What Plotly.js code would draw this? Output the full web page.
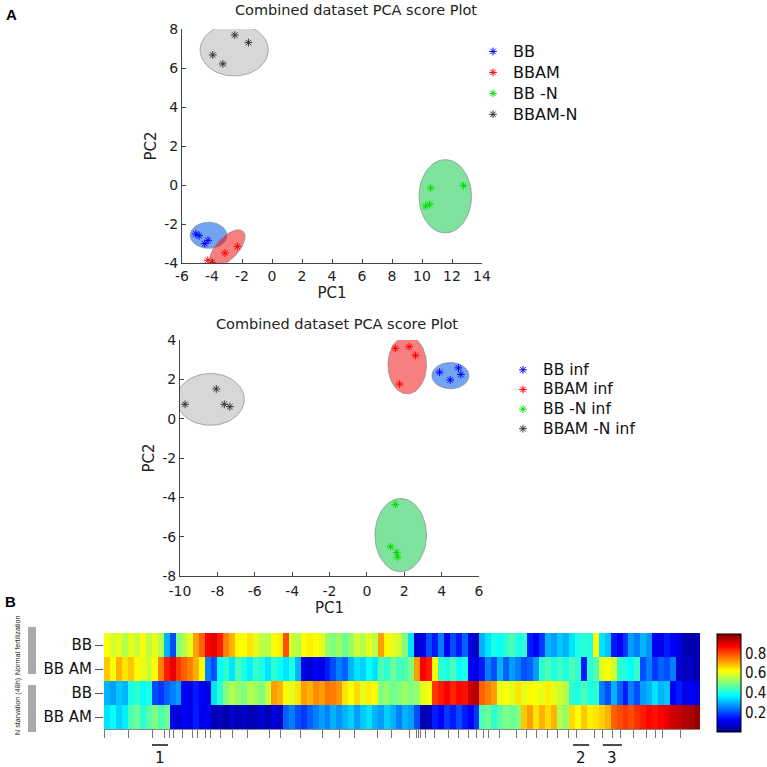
<!DOCTYPE html>
<html>
<head>
<meta charset="utf-8">
<script src="https://cdn.plot.ly/plotly-3.0.1.min.js"></script>
<style>html,body{margin:0;padding:0;background:#fff;}#chart{width:767px;height:767px;}</style>
</head>
<body>
<div id="chart"></div>
<script>
// ---------- Panel A, plot 1 (combined dataset) ----------
const groups1 = ["BB", "BBAM", "BB -N", "BBAM-N"];
const colors = ["#0000ff", "#ff0000", "#00e000", "#333333"];
const fills = ["rgba(0,90,230,0.55)", "rgba(240,0,0,0.5)", "rgba(0,200,60,0.5)", "rgba(160,160,160,0.42)"];
const p1_BB_x = [-5.08, -4.86, -4.48, -4.26];
const p1_BB_y = [-2.51, -2.60, -3.01, -2.84];
const p1_BBAM_x = [-4.28, -3.99, -3.13, -2.31];
const p1_BBAM_y = [-3.86, -3.97, -3.49, -3.15];
const p1_BBN_x = [10.58, 10.24, 10.51, 12.77];
const p1_BBN_y = [-0.15, -1.08, -0.99, -0.03];
const p1_BBAMN_x = [-3.95, -3.28, -2.48, -1.57];
const p1_BBAMN_y = [6.67, 6.21, 7.69, 7.30];
// ellipse: centre x, centre y, semi-axis vector A (x,y), semi-axis vector B (x,y)
const p1_ellCx = [-4.23, -2.97, 11.55, -2.52];
const p1_ellCy = [-2.58, -3.23, -0.58, 6.92];
const p1_ellAx = [1.22, 1.05, 1.75, 2.27];
const p1_ellAy = [0, 0.845, 0, 0];
const p1_ellBx = [0, 0.525, 0, 0];
const p1_ellBy = [0.67, -0.393, 1.88, 1.33];
const p1_xTicks = [-6, -4, -2, 0, 2, 4, 6, 8, 10, 12, 14];
const p1_yTicks = [-4, -2, 0, 2, 4, 6, 8];

// ---------- Panel A, plot 2 (infected) ----------
const groups2 = ["BB inf", "BBAM inf", "BB -N inf", "BBAM -N inf"];
const p2_BB_x = [3.89, 4.46, 4.90, 5.03];
const p2_BB_y = [2.36, 1.97, 2.58, 2.25];
const p2_BBAM_x = [1.52, 2.26, 2.60, 1.75];
const p2_BBAM_y = [3.58, 3.66, 3.22, 1.76];
const p2_BBN_x = [1.53, 1.27, 1.59, 1.64];
const p2_BBN_y = [-4.36, -6.51, -6.80, -7.03];
const p2_BBAMN_x = [-9.73, -8.06, -7.63, -7.33];
const p2_BBAMN_y = [0.73, 1.51, 0.73, 0.61];
const p2_ellCx = [4.47, 2.16, 1.81, -8.37];
const p2_ellCy = [2.19, 2.73, -5.92, 0.98];
const p2_ellAx = [0.99, 1.03, 1.38, 1.81];
const p2_ellAy = [0, 0, 0, 0];
const p2_ellBx = [0, 0, 0, 0];
const p2_ellBy = [0.67, 1.47, 1.86, 1.32];
const p2_xTicks = [-10, -8, -6, -4, -2, 0, 2, 4, 6];
const p2_yTicks = [-8, -6, -4, -2, 0, 2, 4];

// ---------- Panel B heatmap ----------
const rowLabels = ["BB", "BB AM", "BB", "BB AM"];
const rowNormalBB = [0.62,0.58,0.6,0.55,0.6,0.57,0.62,0.56,0.6,0.55,
  0.3,0.2,0.5,0.55,0.6,0.72,0.78,0.88,0.9,0.85,0.75,0.7,
  0.63,0.62,0.65,0.6,0.56,0.55,0.62,0.64,0.8,0.58,0.55,
  0.62,0.64,0.62,0.6,0.52,0.5,0.53,0.48,0.52,0.58,0.55,0.6,0.56,0.72,
  0.63,0.6,0.58,0.5,0.35,0.08,0.1,0.2,0.15,0.25,0.12,0.2,0.15,0.22,0.1,0.06,
  0.3,0.35,0.4,0.38,0.42,0.45,0.4,0.42,0.15,0.12,0.18,0.3,0.28,0.32,0.3,0.35,
  0.4,0.42,0.4,0.62,0.35,0.32,0.15,0.12,0.18,0.28,0.25,0.3,0.27,
  0.12,0.1,0.15,0.12,0.1,0.05,0.04,0.05];
const rowNormalBBAM = [0.68,0.62,0.7,0.65,0.68,0.63,0.6,0.58,0.62,0.75,0.85,
  0.9,0.82,0.78,0.75,0.7,0.62,0.25,0.2,
  0.38,0.42,0.35,0.45,0.4,0.36,0.43,0.4,0.35,0.42,0.38,0.35,0.4,0.3,
  0.1,0.08,0.12,0.1,0.15,0.2,0.25,0.22,0.3,0.35,0.33,0.38,0.35,
  0.45,0.42,0.48,0.44,0.45,0.5,0.72,0.88,0.85,0.62,0.42,0.4,0.45,0.38,0.4,
  0.12,0.1,0.15,0.25,0.2,0.3,0.22,0.28,0.25,0.2,0.22,0.28,
  0.42,0.45,0.4,0.44,0.4,0.45,0.42,0.15,0.42,0.45,0.6,0.62,0.58,
  0.42,0.4,0.38,0.43,0.2,0.25,0.18,0.22,0.2,0.25,0.08,0.06,0.07,0.05];
const rowStarvBB = [0.3,0.28,0.32,0.3,0.4,0.42,0.38,0.4,0.2,0.18,0.22,0.25,0.28,
  0.12,0.1,0.15,0.12,0.1,0.35,0.42,
  0.5,0.55,0.52,0.5,0.55,0.53,0.5,0.57,0.72,0.7,0.62,0.6,0.65,
  0.72,0.7,0.74,0.72,0.76,0.75,0.73,0.65,0.62,0.66,0.6,0.64,0.62,
  0.5,0.52,0.48,0.5,0.53,0.5,0.52,0.6,0.62,
  0.82,0.85,0.88,0.84,0.87,0.86,0.93,0.95,0.78,0.75,0.72,0.6,
  0.62,0.6,0.65,0.6,0.63,0.62,0.6,0.64,0.6,0.58,0.55,
  0.42,0.4,0.45,0.4,0.42,0.25,0.2,0.3,0.22,0.15,0.25,0.2,0.28,
  0.3,0.35,0.3,0.32,0.12,0.15,0.1,0.12,0.1];
const rowStarvBBAM = [0.35,0.38,0.33,0.36,0.45,0.48,0.42,0.46,0.5,0.45,0.48,
  0.1,0.08,0.12,0.1,0.15,0.1,0.12,
  0.05,0.06,0.04,0.08,0.05,0.07,0.05,0.06,0.08,0.05,0.1,0.07,
  0.22,0.25,0.2,0.18,0.22,0.25,0.28,0.25,0.3,0.27,
  0.3,0.33,0.28,0.32,0.35,0.3,0.28,0.33,0.3,0.25,0.3,0.28,0.2,
  0.05,0.06,0.15,0.12,0.18,0.15,0.2,0.15,0.12,0.18,
  0.45,0.48,0.42,0.46,0.5,0.48,0.5,0.68,0.72,0.65,0.7,0.66,0.7,0.55,0.52,
  0.66,0.62,0.68,0.64,0.65,0.67,0.7,0.78,0.8,0.82,0.8,0.83,
  0.85,0.87,0.86,0.88,0.9,0.92,0.93,0.95,0.96,0.98];
// gene-cluster tick positions (column units)
const geneTicks = [-0.5,3.69,7.72,9.57,10.41,11.08,12.59,14.43,15.27,16.45,17.29,18.97,20.98,23.66,27.35,29.03,32.39,
  36.24,38.93,41.45,45.31,47.66,50.84,51.85,52.19,52.52,53.36,54.87,57.22,59.06,60.74,62.08,63.09,63.93,65.94,
  68.79,70.47,72.15,73.83,75.51,77.36,78.86,81.88,83.22,84.74,86.08,88.26,90.44,91.95,93.29,96.31];
const segLabels = ["1", "2", "3"];
const segStart = [7.55, 78.2, 83.2];
const segEnd = [10.24, 80.9, 86.4];
const cbTicks = [0.2, 0.4, 0.6, 0.8];

const jet = [[0,"rgb(0,0,128)"],[0.125,"rgb(0,0,255)"],[0.375,"rgb(0,255,255)"],[0.625,"rgb(255,255,0)"],[0.875,"rgb(255,0,0)"],[1,"rgb(128,0,0)"]];

const W = 767;
const px = v => v / W;
const py = v => 1 - v / W;
const FONT = "DejaVu Sans, Verdana, sans-serif";

function ellipse(cx, cy, ax, ay, bx, by) {
  const xs = [], ys = [];
  for (let i = 0; i <= 72; i++) {
    const t = i / 72 * 2 * Math.PI;
    xs.push(cx + Math.cos(t) * ax + Math.sin(t) * bx);
    ys.push(cy + Math.cos(t) * ay + Math.sin(t) * by);
  }
  return {xs, ys};
}

const traces = [];
function addPlot(names, nameSize, xsArr, ysArr, eCx, eCy, eAx, eAy, eBx, eBy, xa, ya, legendId) {
  for (let g = 0; g < 4; g++) {
    const e = ellipse(eCx[g], eCy[g], eAx[g], eAy[g], eBx[g], eBy[g]);
    traces.push({type: "scatter", mode: "lines", x: e.xs, y: e.ys, xaxis: xa, yaxis: ya,
      fill: "toself", fillcolor: fills[g], line: {color: "#8a8a8a", width: 0.7},
      showlegend: false, hoverinfo: "skip"});
  }
  for (let g = 0; g < 4; g++) {
    traces.push({type: "scatter", mode: "markers",
      name: '<span style="font-size:' + nameSize + 'px">' + names[g] + '</span>',
      x: xsArr[g], y: ysArr[g], xaxis: xa, yaxis: ya, legend: legendId,
      marker: {symbol: "asterisk-open", size: 6.5, color: colors[g], line: {color: colors[g], width: 1}}});
  }
}
addPlot(groups1, 16, [p1_BB_x, p1_BBAM_x, p1_BBN_x, p1_BBAMN_x], [p1_BB_y, p1_BBAM_y, p1_BBN_y, p1_BBAMN_y],
  p1_ellCx, p1_ellCy, p1_ellAx, p1_ellAy, p1_ellBx, p1_ellBy, "x", "y", "legend");
addPlot(groups2, 15.5, [p2_BB_x, p2_BBAM_x, p2_BBN_x, p2_BBAMN_x], [p2_BB_y, p2_BBAM_y, p2_BBN_y, p2_BBAMN_y],
  p2_ellCx, p2_ellCy, p2_ellAx, p2_ellAy, p2_ellBx, p2_ellBy, "x2", "y2", "legend2");

const zRows = [rowNormalBB, rowNormalBBAM, rowStarvBB, rowStarvBBAM];
const nCols = rowNormalBB.length;
traces.push({type: "heatmap", z: zRows, x: [...Array(nCols).keys()], y: [0, 1, 2, 3],
  xaxis: "x3", yaxis: "y3", colorscale: jet, zmin: 0, zmax: 1, showscale: true, hoverinfo: "skip",
  colorbar: {x: px(717), xanchor: "left", y: py(683), yanchor: "middle", len: 98, lenmode: "pixels",
    thickness: 24, thicknessmode: "pixels", xpad: 0, ypad: 0, outlinecolor: "#000", outlinewidth: 1,
    tickvals: cbTicks, ticktext: cbTicks.map(v => v.toFixed(1)), ticks: "", ticklabelpad: 4,
    tickfont: {family: "Liberation Sans Narrow, DejaVu Sans Condensed, sans-serif", size: 15, color: "#111"}}});

const axisCommon = {showgrid: false, zeroline: false, showline: true, linecolor: "#444", linewidth: 1,
  ticks: "inside", ticklen: 4, tickcolor: "#444", tickfont: {family: FONT, size: 14, color: "#222"}, mirror: false};
const tickText = arr => arr.map(v => String(v));

const shapes = [
  {type: "rect", xref: "paper", yref: "paper", x0: px(28), x1: px(36), y0: py(627), y1: py(674), fillcolor: "#aaaaaa", line: {width: 0}},
  {type: "rect", xref: "paper", yref: "paper", x0: px(28), x1: px(36), y0: py(685), y1: py(732), fillcolor: "#aaaaaa", line: {width: 0}}
];
function ann(text, x, y, font, extra) {
  return Object.assign({text: text, x: px(x), y: py(y), xref: "paper", yref: "paper", showarrow: false,
    xanchor: "center", yanchor: "middle", font: font}, extra || {});
}
const annotations = [
  ann("<b>A</b>", 11, 14, {family: "Liberation Sans, Arial", size: 15, color: "#000"}),
  ann("<b>B</b>", 10, 601, {family: "Liberation Sans, Arial", size: 15, color: "#000"}),
  ann("Combined dataset PCA score Plot", 356, 10, {family: FONT, size: 14.5, color: "#222"}),
  ann("Combined dataset PCA score Plot", 337, 324, {family: FONT, size: 14.5, color: "#222"}),
  ann("Normal fertilization", 17, 645, {family: "Liberation Sans, Arial", size: 7.2, color: "#222"}, {textangle: -90}),
  ann("N starvation (48h)", 17, 707, {family: "Liberation Sans, Arial", size: 7.2, color: "#222"}, {textangle: -90})
];
for (let i = 0; i < segLabels.length; i++) {
  shapes.push({type: "line", xref: "x3", yref: "paper", x0: segStart[i], x1: segEnd[i], y0: py(745), y1: py(745), line: {color: "#111", width: 1.5}});
  annotations.push({text: segLabels[i], xref: "x3", yref: "paper", x: (segStart[i] + segEnd[i]) / 2, y: py(758),
    xanchor: "center", yanchor: "middle", showarrow: false, font: {family: FONT, size: 15, color: "#111"}});
}

const layout = {
  width: 767, height: 767, margin: {l: 0, r: 0, t: 0, b: 0}, paper_bgcolor: "#fff", plot_bgcolor: "#fff",
  showlegend: true,
  xaxis: Object.assign({}, axisCommon, {domain: [px(182), px(482)], range: [-6, 14], tickvals: p1_xTicks, ticktext: tickText(p1_xTicks), anchor: "y",
    title: {text: "PC1", font: {family: FONT, size: 15, color: "#222"}, standoff: 2}}),
  yaxis: Object.assign({}, axisCommon, {domain: [py(263), py(29)], range: [-4, 8], tickvals: p1_yTicks, ticktext: tickText(p1_yTicks), anchor: "x",
    title: {text: "PC2", font: {family: FONT, size: 15, color: "#222"}, standoff: 3}}),
  xaxis2: Object.assign({}, axisCommon, {domain: [px(180), px(479)], range: [-10, 6], tickvals: p2_xTicks, ticktext: tickText(p2_xTicks), anchor: "y2",
    ticklabelstandoff: 2, title: {text: "PC1", font: {family: FONT, size: 15, color: "#222"}, standoff: 0}}),
  yaxis2: Object.assign({}, axisCommon, {domain: [py(576), py(340)], range: [-8, 4], tickvals: p2_yTicks, ticktext: tickText(p2_yTicks), anchor: "x2",
    title: {text: "PC2", font: {family: FONT, size: 15, color: "#222"}, standoff: 3}}),
  xaxis3: {domain: [px(104), px(700)], range: [-0.5, nCols - 0.5], anchor: "y3", showgrid: false, zeroline: false,
    showline: true, linecolor: "#888", linewidth: 1, tickvals: geneTicks, ticks: "outside", ticklen: 8, tickcolor: "#777", tickwidth: 1, showticklabels: false},
  yaxis3: {domain: [py(729), py(633)], range: [3.5, -0.5], anchor: "x3", showgrid: false, zeroline: false, showline: false,
    tickvals: [0, 1, 2, 3], ticktext: rowLabels, ticks: "outside", ticklen: 8, tickcolor: "#555", tickfont: {family: FONT, size: 15, color: "#111"}},
  legend: {x: px(473), xanchor: "left", y: py(36), yanchor: "top", bgcolor: "rgba(0,0,0,0)", borderwidth: 0,
    font: {family: FONT, size: 13.8, color: "#111"}, itemwidth: 30, tracegroupgap: 0},
  legend2: {x: px(503), xanchor: "left", y: py(355), yanchor: "top", bgcolor: "rgba(0,0,0,0)", borderwidth: 0,
    font: {family: FONT, size: 12.8, color: "#111"}, itemwidth: 30, tracegroupgap: 0},
  shapes: shapes, annotations: annotations
};

Plotly.newPlot("chart", traces, layout, {staticPlot: true, displayModeBar: false});
</script>
</body>
</html>
